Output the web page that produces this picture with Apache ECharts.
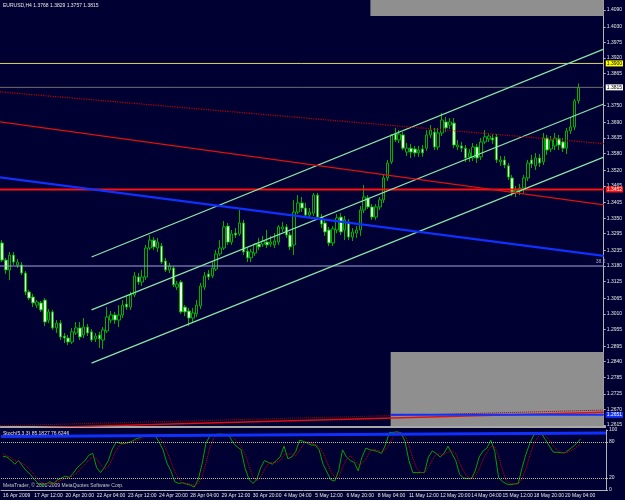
<!DOCTYPE html>
<html>
<head>
<meta charset="utf-8">
<title>EURUSD,H4</title>
<script src="https://cdn.jsdelivr.net/npm/echarts@6/dist/echarts.min.js"></script>
<style>
  html, body { margin: 0; padding: 0; background: #000032; }
  #chart { width: 625px; height: 500px; }
</style>
</head>
<body>
<div id="chart"></div>
<script>
// EURUSD H4, 16 Apr 04:00 .. 20 May 20:00 2009, one value per bar
const timeLabels = ['16 Apr 2009', '17 Apr 12:00', '20 Apr 20:00', '22 Apr 04:00', '23 Apr 12:00',
  '24 Apr 20:00', '28 Apr 04:00', '29 Apr 12:00', '30 Apr 20:00', '4 May 04:00', '5 May 12:00',
  '6 May 20:00', '8 May 04:00', '11 May 12:00', '12 May 20:00', '14 May 04:00', '15 May 12:00',
  '18 May 20:00', '20 May 04:00'];

const open = [1.3262, 1.3201, 1.3166, 1.3219, 1.3184, 1.3184, 1.3155, 1.3088, 1.3070, 1.3041,
  1.3049, 1.3059, 1.2988, 1.3017, 1.2960, 1.2977, 1.2931, 1.2924, 1.2910, 1.2942,
  1.2960, 1.2935, 1.2963, 1.2946, 1.2921, 1.2935, 1.2917, 1.2949, 1.2988, 1.3006,
  1.2988, 1.3006, 1.3045, 1.3034, 1.3077, 1.3141, 1.3123, 1.3141, 1.3244, 1.3272,
  1.3244, 1.3251, 1.3198, 1.3166, 1.3173, 1.3105, 1.3123, 1.3034, 1.3020, 1.2995,
  1.3010, 1.3038, 1.3105, 1.3152, 1.3145, 1.3169, 1.3223, 1.3244, 1.3322, 1.3265,
  1.3297, 1.3294, 1.3333, 1.3233, 1.3209, 1.3226, 1.3258, 1.3258, 1.3265, 1.3258,
  1.3255, 1.3265, 1.3312, 1.3319, 1.3290, 1.3255, 1.3372, 1.3404, 1.3386, 1.3361,
  1.3368, 1.3432, 1.3354, 1.3333, 1.3308, 1.3262, 1.3308, 1.3354, 1.3308, 1.3336,
  1.3283, 1.3297, 1.3308, 1.3379, 1.3422, 1.3390, 1.3354, 1.3390, 1.3415, 1.3493,
  1.3550, 1.3649, 1.3628, 1.3646, 1.3585, 1.3599, 1.3596, 1.3582, 1.3596, 1.3599,
  1.3646, 1.3656, 1.3603, 1.3653, 1.3692, 1.3681, 1.3688, 1.3603, 1.3607, 1.3599,
  1.3568, 1.3564, 1.3603, 1.3568, 1.3621, 1.3632, 1.3635, 1.3639, 1.3550, 1.3557,
  1.3536, 1.3493, 1.3443, 1.3447, 1.3457, 1.3493, 1.3557, 1.3536, 1.3564, 1.3550,
  1.3635, 1.3596, 1.3607, 1.3632, 1.3621, 1.3599, 1.3660, 1.3674, 1.3768];
const high = [1.3272, 1.3209, 1.3230, 1.3230, 1.3205, 1.3194, 1.3162, 1.3095, 1.3081, 1.3059,
  1.3056, 1.3066, 1.3027, 1.3024, 1.2988, 1.2988, 1.2942, 1.2935, 1.2960, 1.2981,
  1.2981, 1.2995, 1.2974, 1.2956, 1.2942, 1.2946, 1.2963, 1.3034, 1.3020, 1.3017,
  1.3041, 1.3059, 1.3074, 1.3088, 1.3159, 1.3155, 1.3166, 1.3255, 1.3290, 1.3283,
  1.3280, 1.3262, 1.3209, 1.3191, 1.3180, 1.3127, 1.3130, 1.3041, 1.3031, 1.3031,
  1.3059, 1.3120, 1.3159, 1.3166, 1.3194, 1.3237, 1.3272, 1.3340, 1.3333, 1.3308,
  1.3315, 1.3379, 1.3344, 1.3244, 1.3241, 1.3262, 1.3280, 1.3287, 1.3308, 1.3287,
  1.3297, 1.3326, 1.3336, 1.3329, 1.3301, 1.3415, 1.3432, 1.3425, 1.3404, 1.3386,
  1.3440, 1.3440, 1.3365, 1.3344, 1.3319, 1.3322, 1.3365, 1.3368, 1.3358, 1.3347,
  1.3315, 1.3322, 1.3393, 1.3468, 1.3432, 1.3400, 1.3400, 1.3425, 1.3504, 1.3557,
  1.3649, 1.3671, 1.3663, 1.3656, 1.3617, 1.3614, 1.3607, 1.3607, 1.3610, 1.3663,
  1.3681, 1.3671, 1.3671, 1.3724, 1.3710, 1.3706, 1.3706, 1.3628, 1.3621, 1.3610,
  1.3596, 1.3617, 1.3614, 1.3635, 1.3663, 1.3653, 1.3649, 1.3649, 1.3571, 1.3571,
  1.3546, 1.3504, 1.3464, 1.3472, 1.3504, 1.3557, 1.3575, 1.3582, 1.3578, 1.3653,
  1.3646, 1.3642, 1.3653, 1.3646, 1.3635, 1.3671, 1.3706, 1.3774, 1.3829];
const low = [1.3194, 1.3152, 1.3130, 1.3184, 1.3173, 1.3148, 1.3077, 1.3059, 1.3034, 1.3031,
  1.3017, 1.2967, 1.2977, 1.2953, 1.2942, 1.2917, 1.2906, 1.2899, 1.2903, 1.2935,
  1.2917, 1.2924, 1.2931, 1.2910, 1.2910, 1.2889, 1.2885, 1.2942, 1.2977, 1.2974,
  1.2963, 1.2995, 1.3024, 1.3024, 1.3070, 1.3113, 1.3109, 1.3130, 1.3237, 1.3237,
  1.3230, 1.3187, 1.3159, 1.3155, 1.3105, 1.3095, 1.3010, 1.3002, 1.2967, 1.2981,
  1.2999, 1.3027, 1.3095, 1.3130, 1.3137, 1.3162, 1.3216, 1.3237, 1.3255, 1.3255,
  1.3280, 1.3287, 1.3219, 1.3194, 1.3194, 1.3216, 1.3237, 1.3248, 1.3244, 1.3248,
  1.3244, 1.3255, 1.3301, 1.3280, 1.3237, 1.3219, 1.3365, 1.3372, 1.3354, 1.3351,
  1.3358, 1.3347, 1.3315, 1.3287, 1.3251, 1.3251, 1.3297, 1.3290, 1.3272, 1.3272,
  1.3269, 1.3280, 1.3287, 1.3368, 1.3383, 1.3344, 1.3344, 1.3379, 1.3404, 1.3482,
  1.3543, 1.3621, 1.3617, 1.3592, 1.3571, 1.3564, 1.3568, 1.3568, 1.3568, 1.3589,
  1.3635, 1.3592, 1.3592, 1.3642, 1.3656, 1.3667, 1.3599, 1.3592, 1.3585, 1.3550,
  1.3550, 1.3553, 1.3546, 1.3557, 1.3614, 1.3621, 1.3614, 1.3546, 1.3536, 1.3528,
  1.3486, 1.3429, 1.3425, 1.3432, 1.3440, 1.3482, 1.3528, 1.3521, 1.3532, 1.3539,
  1.3575, 1.3585, 1.3592, 1.3592, 1.3585, 1.3578, 1.3649, 1.3663, 1.3757];
const close = [1.3201, 1.3166, 1.3219, 1.3194, 1.3194, 1.3155, 1.3088, 1.3066, 1.3049, 1.3052,
  1.3024, 1.2981, 1.3017, 1.2960, 1.2977, 1.2928, 1.2924, 1.2910, 1.2946, 1.2960,
  1.2928, 1.2963, 1.2942, 1.2917, 1.2931, 1.2921, 1.2953, 1.2999, 1.3006, 1.2988,
  1.3006, 1.3041, 1.3034, 1.3077, 1.3145, 1.3123, 1.3141, 1.3244, 1.3272, 1.3248,
  1.3265, 1.3194, 1.3166, 1.3180, 1.3113, 1.3116, 1.3017, 1.3017, 1.2995, 1.3013,
  1.3041, 1.3109, 1.3145, 1.3141, 1.3173, 1.3223, 1.3244, 1.3319, 1.3265, 1.3294,
  1.3290, 1.3333, 1.3230, 1.3209, 1.3230, 1.3258, 1.3248, 1.3269, 1.3255, 1.3265,
  1.3269, 1.3319, 1.3319, 1.3290, 1.3248, 1.3372, 1.3404, 1.3386, 1.3361, 1.3372,
  1.3432, 1.3354, 1.3329, 1.3301, 1.3262, 1.3312, 1.3351, 1.3301, 1.3344, 1.3283,
  1.3301, 1.3308, 1.3379, 1.3425, 1.3390, 1.3354, 1.3390, 1.3415, 1.3493, 1.3546,
  1.3646, 1.3628, 1.3649, 1.3599, 1.3599, 1.3585, 1.3582, 1.3592, 1.3582, 1.3646,
  1.3663, 1.3603, 1.3653, 1.3699, 1.3671, 1.3692, 1.3610, 1.3610, 1.3599, 1.3564,
  1.3582, 1.3603, 1.3564, 1.3621, 1.3639, 1.3642, 1.3628, 1.3557, 1.3557, 1.3539,
  1.3496, 1.3443, 1.3450, 1.3457, 1.3493, 1.3546, 1.3543, 1.3564, 1.3546, 1.3635,
  1.3592, 1.3628, 1.3635, 1.3610, 1.3599, 1.3660, 1.3674, 1.3767, 1.3815];

// Stochastic(5,3,3): main and signal
const stochMain = [56, 55, 50, 43, 49, 40, 32, 26, 18, 11,
  8, 10, 14, 11, 17, 20, 23, 21, 28, 37,
  43, 49, 58, 61, 37, 29, 38, 49, 68, 80,
  78, 77, 79, 81, 85, 87, 91, 91, 91, 90,
  80, 67, 45, 32, 14, 11, 12, 10, 8, 5,
  17, 43, 78, 90, 92, 93, 93, 92, 90, 78,
  72, 67, 37, 18, 11, 17, 37, 49, 46, 43,
  49, 55, 73, 52, 55, 64, 83, 81, 78, 75,
  75, 67, 43, 30, 17, 15, 32, 67, 55, 49,
  46, 32, 55, 70, 67, 66, 64, 61, 75, 96,
  96, 97, 95, 81, 49, 29, 29, 29, 29, 55,
  65, 61, 55, 61, 73, 61, 49, 26, 20, 19,
  19, 32, 55, 65, 70, 83, 64, 20, 14, 10,
  9, 10, 11, 37, 60, 78, 92, 93, 93, 84,
  73, 63, 63, 62, 62, 67, 72, 78, 85.1827];
const stochSignal = [60, 57, 54, 49, 47, 44, 40, 33, 25, 18,
  12, 10, 11, 12, 14, 16, 20, 21, 24, 29,
  36, 43, 50, 56, 52, 42, 35, 39, 52, 66,
  75, 78, 78, 79, 82, 84, 88, 90, 91, 91,
  87, 79, 64, 48, 30, 19, 12, 11, 10, 8,
  10, 22, 46, 70, 87, 92, 93, 93, 92, 87,
  80, 72, 59, 41, 22, 15, 22, 34, 44, 46,
  46, 49, 59, 60, 60, 57, 67, 76, 81, 78,
  76, 72, 62, 47, 30, 21, 21, 38, 51, 57,
  50, 42, 44, 52, 64, 68, 66, 64, 67, 77,
  89, 96, 96, 91, 75, 53, 36, 29, 29, 38,
  50, 60, 60, 59, 63, 65, 61, 45, 32, 22,
  19, 23, 35, 51, 63, 73, 72, 56, 33, 15,
  11, 10, 10, 19, 36, 58, 77, 88, 93, 90,
  83, 73, 66, 63, 62, 64, 67, 72, 76.6246];

const priceTicks = [1.4090, 1.4030, 1.3975, 1.3920, 1.3865, 1.3750, 1.3690, 1.3635, 1.3580,
  1.3520, 1.3465, 1.3405, 1.3350, 1.3295, 1.3235, 1.3180, 1.3125, 1.3065, 1.3010, 1.2955,
  1.2895, 1.2840, 1.2785, 1.2725, 1.2670, 1.2615];
const stochTicks = [0, 20, 80, 100];

// chart objects: [bar, price] end points
const channelUpper = [[23, 1.3212], [154.5, 1.3951]];
const channelMiddle = [[23, 1.3024], [154.5, 1.3756]];
const channelLower = [[23, 1.2835], [154.5, 1.3567]];
const redTrend = [[-0.5, 1.3692], [154.5, 1.3397]];
const redDotted = [[-0.5, 1.3799], [154.5, 1.3615]];
const blueTrend = [[-0.5, 1.3495], [154.5, 1.3216]];
const lowRedTrend = [[-0.5, 1.2602], [154.5, 1.2660]];
const lowRedDotted = [[-0.5, 1.2612], [154.5, 1.2668]];
const lowBlue = [[99.8, 1.2651], [154.5, 1.2651]];
const stochBlue = [[-0.5, 89], [154.5, 95]];
const boxTop = [[94.6, 1.4069], [154.5, 1.4126]];
const boxBottom = [[99.8, 1.2874], [154.5, 1.2611]];
const levelYellow = 1.3900;
const levelBid = 1.3815;
const levelRed = 1.3452;
const levelFibo = 1.3180;

const bg = '#000032';
const axisGrey = '#b4b4b4';
const txt = '#e6e6e6';
const mint = '#88e6a8';
const nSlots = 155; // 149 bars plus the empty shift on the right
const cats = [];
for (let i = 0; i < nSlots; i++) cats.push('b' + i);
const candles = open.map((o, i) => [o, close[i], low[i], high[i]]);
const last = open.length - 1;
const labelAt = i => i % 8 === 0 && i / 8 < timeLabels.length;
const f4 = v => v.toFixed(4);

function seg(pts, color, width, type, xi, yi) {
  return {
    type: 'line', xAxisIndex: xi || 2, yAxisIndex: yi || 0, data: pts,
    symbol: 'none', silent: true, z: 3,
    lineStyle: { color: color, width: width, type: type || 'solid' }
  };
}
// horizontal level across the whole chart, with its price tag on the axis
function level(v, color, width, tagBg, tagFg) {
  const s = seg([[-0.5, v], [nSlots - 0.5, v]], color, width);
  if (tagBg) {
    s.endLabel = {
      show: true, distance: 2, formatter: () => f4(v),
      backgroundColor: tagBg, color: tagFg, fontSize: 5, padding: [1, 1, 0, 1]
    };
  }
  return s;
}

const chart = echarts.init(document.getElementById('chart'));

const upper = seg(channelUpper, mint, 1.2);
upper.markArea = {
  silent: true,
  itemStyle: { color: '#8f8f8f' },
  data: [
    [{ coord: boxTop[0] }, { coord: boxTop[1] }],
    [{ coord: boxBottom[0] }, { coord: boxBottom[1] }]
  ]
};

const blueLow = seg(lowBlue, '#1030ff', 2);
blueLow.endLabel = {
  show: true, distance: 2, formatter: () => f4(lowBlue[1][1]),
  backgroundColor: '#1030ff', color: '#fff', fontSize: 5, padding: [1, 1, 0, 1]
};

const fibo = level(levelFibo, '#a4a4dc', 1);
fibo.endLabel = { show: true, formatter: '38.2', offset: [-16, -4], color: '#a4a4dc', fontSize: 5 };

chart.setOption({
  animation: false,
  backgroundColor: bg,
  textStyle: { fontFamily: 'Liberation Sans' },
  grid: [
    { left: 0, top: 0, width: 606, height: 426 },
    { left: 0, top: 430, width: 606, height: 60 }
  ],
  xAxis: [
    { type: 'category', gridIndex: 0, data: cats, boundaryGap: true, show: false },
    {
      type: 'category', gridIndex: 1, data: cats, boundaryGap: true,
      axisLine: { onZero: false, lineStyle: { color: axisGrey } },
      axisTick: { alignWithLabel: true, interval: labelAt, length: 2, lineStyle: { color: axisGrey } },
      axisLabel: {
        interval: labelAt, align: 'left', margin: 3, color: txt, fontSize: 5,
        formatter: v => timeLabels[Number(v.slice(1)) / 8]
      }
    },
    { type: 'value', gridIndex: 0, min: -0.5, max: nSlots - 0.5, show: false },
    { type: 'value', gridIndex: 1, min: -0.5, max: nSlots - 0.5, show: false }
  ],
  yAxis: [
    {
      type: 'value', gridIndex: 0, position: 'right', min: 1.26114, max: 1.41255,
      splitLine: { show: false },
      axisLine: { show: true, onZero: false, lineStyle: { color: axisGrey } },
      axisTick: { show: true, length: 2, customValues: priceTicks, lineStyle: { color: axisGrey } },
      axisLabel: { customValues: priceTicks, formatter: f4, color: txt, fontSize: 5, margin: 3 }
    },
    {
      type: 'value', gridIndex: 1, position: 'right', min: 0, max: 100,
      splitLine: { show: false },
      axisLine: { show: true, onZero: false, lineStyle: { color: axisGrey } },
      axisTick: { show: true, length: 2, customValues: stochTicks, lineStyle: { color: axisGrey } },
      axisLabel: { customValues: stochTicks, color: txt, fontSize: 5, margin: 3 }
    }
  ],
  graphic: [
    { type: 'rect', shape: { x: 0, y: 426, width: 606, height: 2 }, style: { fill: '#a8a8a8' }, silent: true },
    {
      type: 'text', left: 3, top: 3, silent: true,
      style: {
        text: 'EURUSD,H4 ' + [open[last], high[last], low[last], close[last]].map(f4).join(' '),
        fill: txt, font: '5px "Liberation Sans"'
      }
    },
    {
      type: 'text', left: 3, top: 431, silent: true,
      style: {
        text: 'Stoch(5,3,3) ' + f4(stochMain[last]) + ' ' + f4(stochSignal[last]),
        fill: txt, font: '5px "Liberation Sans"'
      }
    },
    {
      type: 'text', left: 3, top: 483, silent: true,
      style: { text: 'MetaTrader, © 2001-2009 MetaQuotes Software Corp.', fill: '#c8c8c8', font: '5px "Liberation Sans"' }
    }
  ],
  series: [
    {
      type: 'candlestick', xAxisIndex: 0, yAxisIndex: 0, data: candles, barWidth: 3, z: 2,
      itemStyle: { color: bg, color0: '#e4ffdc', borderColor: '#00b000', borderColor0: '#00b000', borderWidth: 1 }
    },
    level(levelYellow, '#d6d66a', 1, '#ffff00', '#000'),
    level(levelBid, '#6e6e6e', 1, '#ffffff', '#000'),
    level(levelRed, '#ff1010', 2, '#ff1010', '#fff'),
    fibo,
    upper,
    seg(channelMiddle, mint, 1.2),
    seg(channelLower, mint, 1.2),
    seg(redTrend, '#e01010', 1.2),
    seg(redDotted, '#c00000', 1.2, 'dotted'),
    seg(blueTrend, '#1030ff', 2.2),
    seg(lowRedTrend, '#e01010', 1.5),
    seg(lowRedDotted, '#a00000', 1, 'dotted'),
    blueLow,
    {
      type: 'line', xAxisIndex: 1, yAxisIndex: 1, data: stochMain, symbol: 'none', silent: true,
      lineStyle: { color: '#00a000', width: 1 },
      markLine: {
        symbol: ['none', 'none'], silent: true, label: { show: false },
        lineStyle: { color: '#c4c49c', width: 1, type: 'dotted' },
        data: [{ yAxis: 80 }, { yAxis: 20 }]
      }
    },
    {
      type: 'line', xAxisIndex: 1, yAxisIndex: 1, data: stochSignal, symbol: 'none', silent: true,
      lineStyle: { color: '#d00000', width: 1, type: 'dotted' }
    },
    seg(stochBlue, '#1030ff', 3, 'solid', 3, 1)
  ]
});
</script>
</body>
</html>
